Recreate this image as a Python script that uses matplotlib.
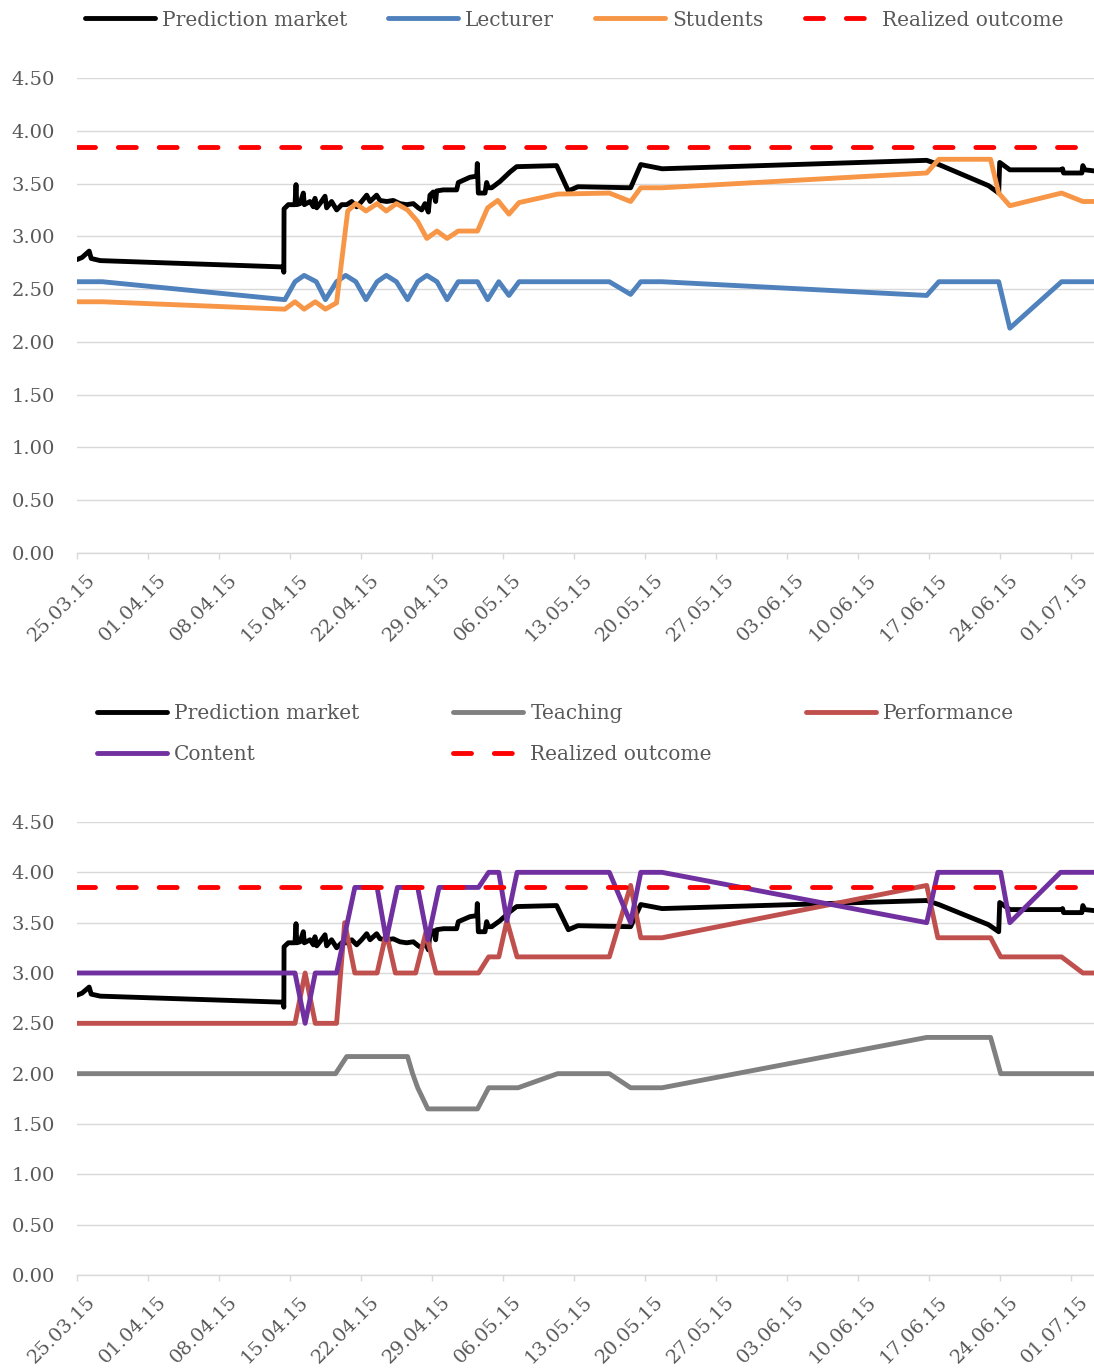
import matplotlib
matplotlib.use('Agg')
import matplotlib.pyplot as plt
from matplotlib.transforms import ScaledTranslation
import matplotlib.dates as mdates
import pandas as pd

START = pd.Timestamp('2015-03-25')

# ---- data (x = days since 25.03.15) ----
pm_days = [0.0, 0.5, 1.2, 1.4, 2.3, 20.3, 20.4, 20.42, 20.84, 21.5, 21.6, 21.67, 22.0, 22.32, 22.42,
           22.98, 23.31, 23.47, 23.64, 23.96, 24.46, 24.62, 25.11, 25.61, 26.1, 26.6, 27.09, 27.58,
           28.07, 28.57, 28.9, 29.55, 29.88, 30.54, 31.19, 31.85, 32.51, 33.17, 33.66, 33.99, 34.32,
           34.65, 34.81, 35.14, 35.37, 35.47, 36.13, 37.44, 37.61, 38.76, 39.42, 39.48, 39.58, 40.24,
           40.4, 40.57, 40.9, 41.72, 42.05, 42.71, 43.36, 47.3, 48.46, 49.4, 54.6, 55.6, 57.7, 83.8,
           85.0, 89.9, 90.9, 91.0, 92.0, 97.1, 97.2, 97.3, 99.1, 99.2, 99.4, 100.3]
pm_vals = [2.78, 2.80, 2.86, 2.79, 2.77, 2.71, 2.66, 3.26, 3.30, 3.30, 3.49, 3.30, 3.31, 3.41, 3.30,
           3.33, 3.28, 3.36, 3.27, 3.31, 3.38, 3.27, 3.33, 3.25, 3.30, 3.30, 3.33, 3.28,
           3.33, 3.39, 3.33, 3.39, 3.34, 3.33, 3.34, 3.31, 3.30, 3.31, 3.27, 3.25, 3.31,
           3.23, 3.39, 3.42, 3.33, 3.43, 3.44, 3.44, 3.51, 3.56, 3.57, 3.69, 3.41, 3.41,
           3.51, 3.46, 3.46, 3.52, 3.55, 3.61, 3.66, 3.67, 3.43, 3.47, 3.46, 3.68, 3.64, 3.72,
           3.68, 3.48, 3.41, 3.70, 3.63, 3.63, 3.64, 3.60, 3.60, 3.67, 3.63, 3.62]

lect_days = [0, 2.5, 20.5, 21.5, 22.4, 23.6, 24.5, 25.6, 26.5, 27.5, 28.5, 29.6, 30.5, 31.5, 32.6,
             33.6, 34.5, 35.5, 36.5, 37.6, 39.5, 40.5, 41.6, 42.6, 43.6, 52.5, 54.6, 55.6, 57.7,
             83.8, 85.0, 90.9, 92.0, 97.1, 100.3]
lect_vals = [2.57, 2.57, 2.40, 2.57, 2.63, 2.57, 2.40, 2.57, 2.63, 2.57, 2.40, 2.57, 2.63, 2.57, 2.40,
             2.57, 2.63, 2.57, 2.40, 2.57, 2.57, 2.40, 2.57, 2.44, 2.57, 2.57, 2.45, 2.57, 2.57,
             2.44, 2.57, 2.57, 2.13, 2.57, 2.57]

stud_days = [0, 2.5, 20.5, 21.5, 22.4, 23.5, 24.5, 25.6, 26.7, 27.5, 28.5, 29.6, 30.5, 31.5, 32.6,
             33.6, 34.5, 35.5, 36.5, 37.6, 39.5, 40.5, 41.5, 42.6, 43.6, 47.4, 52.5, 54.6, 55.6,
             57.7, 83.8, 85.0, 90.1, 90.9, 92.0, 97.1, 99.2, 100.3]
stud_vals = [2.38, 2.38, 2.31, 2.38, 2.31, 2.38, 2.31, 2.37, 3.24, 3.31, 3.24, 3.31, 3.24, 3.31, 3.25,
             3.14, 2.98, 3.05, 2.98, 3.05, 3.05, 3.27, 3.34, 3.21, 3.32, 3.40, 3.41, 3.33, 3.46,
             3.46, 3.60, 3.73, 3.73, 3.41, 3.29, 3.41, 3.33, 3.33]

teach_days = [0, 25.5, 26.6, 32.6, 33.1, 33.6, 34.6, 39.5, 40.6, 43.5, 47.4, 52.5, 54.6, 57.7,
              83.8, 90.1, 91.1, 100.3]
teach_vals = [2.00, 2.00, 2.17, 2.17, 2.00, 1.86, 1.65, 1.65, 1.86, 1.86, 2.00, 2.00, 1.86, 1.86,
              2.36, 2.36, 2.00, 2.00]

perf_days = [0, 21.5, 22.5, 23.5, 25.6, 26.4, 27.4, 29.6, 30.5, 31.4, 33.4, 34.4, 35.4, 39.6, 40.6,
             41.6, 42.4, 43.4, 52.5, 54.6, 55.6, 57.7, 83.8, 84.9, 90.1, 91.1, 97.1, 99.2, 100.3]
perf_vals = [2.50, 2.50, 3.00, 2.50, 2.50, 3.50, 3.00, 3.00, 3.40, 3.00, 3.00, 3.40, 3.00, 3.00, 3.16,
             3.16, 3.52, 3.16, 3.16, 3.87, 3.35, 3.35, 3.87, 3.35, 3.35, 3.16, 3.16, 3.00, 3.00]

cont_days = [0, 21.5, 22.5, 23.5, 25.6, 27.4, 29.6, 30.5, 31.6, 33.6, 34.6, 35.7, 39.6, 40.6, 41.6,
             42.4, 43.4, 52.5, 54.6, 55.6, 57.7, 83.8, 84.9, 91.1, 92.0, 97.0, 100.3]
cont_vals = [3.00, 3.00, 2.50, 3.00, 3.00, 3.85, 3.85, 3.33, 3.85, 3.85, 3.33, 3.85, 3.85, 4.00, 4.00,
             3.52, 4.00, 4.00, 3.50, 4.00, 4.00, 3.50, 4.00, 4.00, 3.50, 4.00, 4.00]

realized_value = 3.85
realized_days = [0, 100.3]

yticks = [0.0, 0.5, 1.0, 1.5, 2.0, 2.5, 3.0, 3.5, 4.0, 4.5]


def to_dates(days):
    return [START + pd.Timedelta(days=d) for d in days]


FONT = 'DejaVu Serif'
plt.rcParams['font.family'] = FONT
TXT = '#595959'
GRID = '#d9d9d9'
LW = 3.5

C_PM = '#000000'
C_LECT = '#4f81bd'
C_STUD = '#f79646'
C_REAL = '#ff0000'
C_TEACH = '#808080'
C_PERF = '#c0504d'
C_CONT = '#7030a0'

W, H = 1094, 1369
fig = plt.figure(figsize=(W / 100, H / 100), dpi=100)

ax1 = fig.add_axes([77 / W, (H - 553) / H, (W - 77) / W, 475 / H])
ax2 = fig.add_axes([77 / W, (H - 1275) / H, (W - 77) / W, 453 / H])

line_kw = dict(lw=LW, solid_joinstyle='round', solid_capstyle='round')
dash_kw = dict(lw=3.5, linestyle=(0, (3.7, 4.7)), dash_capstyle='round', color=C_REAL)

# top panel
h_pm, = ax1.plot(to_dates(pm_days), pm_vals, color=C_PM, **line_kw)
h_le, = ax1.plot(to_dates(lect_days), lect_vals, color=C_LECT, **line_kw)
h_st, = ax1.plot(to_dates(stud_days), stud_vals, color=C_STUD, **line_kw)
h_re, = ax1.plot(to_dates(realized_days), [realized_value] * 2, **dash_kw)

# bottom panel
g_pm, = ax2.plot(to_dates(pm_days), pm_vals, color=C_PM, **line_kw)
g_te, = ax2.plot(to_dates(teach_days), teach_vals, color=C_TEACH, **line_kw)
g_pf, = ax2.plot(to_dates(perf_days), perf_vals, color=C_PERF, **line_kw)
g_co, = ax2.plot(to_dates(cont_days), cont_vals, color=C_CONT, **line_kw)
g_re, = ax2.plot(to_dates(realized_days), [realized_value] * 2, **dash_kw)

xt = pd.date_range(START, periods=15, freq='7D')
for ax in (ax1, ax2):
    ax.set_xlim(START, START + pd.Timedelta(days=realized_days[-1]))
    ax.set_ylim(0, 4.5)
    ax.set_yticks(yticks)
    ax.set_yticklabels([f'{v:.2f}' for v in yticks])
    ax.set_xticks(xt)
    ax.xaxis.set_major_formatter(mdates.DateFormatter('%d.%m.%y'))
    ax.grid(axis='y', color=GRID, lw=1.0)
    ax.set_axisbelow(True)
    for s in ('top', 'right', 'left'):
        ax.spines[s].set_visible(False)
    ax.spines['bottom'].set_color(GRID)
    ax.spines['bottom'].set_linewidth(1.0)
    ax.tick_params(axis='y', length=0, pad=16, labelsize=14, labelcolor=TXT)
    ax.tick_params(axis='x', length=4.5, width=1.0, color=GRID, direction='out', pad=8,
                   labelsize=14, labelcolor=TXT)
    off = ScaledTranslation(9 / 100, 0, fig.dpi_scale_trans)
    for lab in ax.get_xticklabels():
        lab.set_rotation(45)
        lab.set_ha('right')
        lab.set_va('top')
        lab.set_rotation_mode('anchor')
        lab.set_transform(lab.get_transform() + off)
    ax.patch.set_alpha(0)

FS = 14.5
fpx = FS * 100 / 72
leg_kw = dict(frameon=False, fontsize=FS, handlelength=70 / fpx, handletextpad=7 / fpx,
              borderpad=0, borderaxespad=0, labelcolor=TXT)

fig.legend([h_pm, h_le, h_st, h_re], ['Prediction market', 'Lecturer', 'Students', 'Realized outcome'],
           loc='center left', bbox_to_anchor=(85 / W, 1 - 20 / H), ncol=4,
           columnspacing=41 / fpx, **leg_kw)

fig.legend([g_pm, g_co, g_te, g_re, g_pf],
           ['Prediction market', 'Content', 'Teaching', 'Realized outcome', 'Performance'],
           loc='center left', bbox_to_anchor=(97 / W, 1 - 734 / H), ncol=3,
           columnspacing=94 / fpx, labelspacing=(43 - fpx) / fpx, **leg_kw)

fig.savefig('out.png', dpi=100)
